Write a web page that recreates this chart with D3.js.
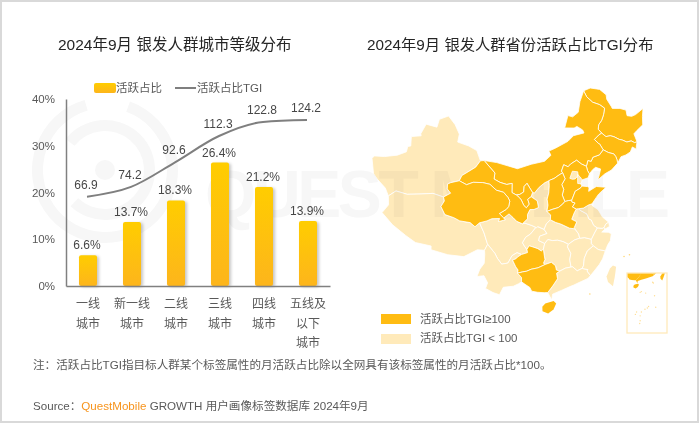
<!DOCTYPE html>
<html>
<head>
<meta charset="utf-8">
<script src="https://cdn.jsdelivr.net/npm/d3@7"></script>
<style>
  html, body { margin: 0; padding: 0; background: #fff; }
  svg { display: block; }
  text { font-family: "Liberation Sans", "Noto Sans CJK SC", sans-serif; }
</style>
</head>
<body>
<svg id="chart" width="700" height="423"></svg>
<script>
// left chart data
var cityTiers = [["一线","城市"],["新一线","城市"],["二线","城市"],["三线","城市"],["四线","城市"],["五线及","以下","城市"]];
var activeShare = [6.6, 13.7, 18.3, 26.4, 21.2, 13.9];
var activeTgi = [66.9, 74.2, 92.6, 112.3, 122.8, 124.2];
var shareTicks = [0, 10, 20, 30, 40];

// map data: shared borders in lon/lat, provinces are built by chaining them
var borders = {
  ext_hlj: [[121.5,53.3],[123.3,53.55],[125.6,53.05],[126.9,52],[126.8,51.3],[127.5,50],[127.6,49.7],[129.4,49.4],[130.7,48.9],[130.6,48],[131.6,47.7],[132.6,47.8],[134.7,48.4],[134,47.2],[133.5,45.9],[131.9,45.3],[131,44.9],[131.2,43.5]],
  hlj_nm: [[121.5,53.3],[122,52.3],[123.2,51.3],[124.8,50.7],[125.8,50],[125.2,49],[124.5,48.2],[123.6,47.6],[123.3,46.9],[123.9,46.2]],
  hlj_jl: [[123.9,46.2],[124.7,45.5],[125.7,45.5],[126.5,45.2],[127.5,44.6],[128.1,44.4],[129,43.9],[130,43.9],[130.6,43.5],[131.2,43.5]],
  ext_jl: [[131.2,43.5],[130.8,42.9],[130.6,42.4],[129.9,42.9],[129.2,42.2],[128.1,41.9],[127,41.8],[126,40.9]],
  jl_nm: [[123.9,46.2],[123.2,46],[122,45.4],[122.8,44.6],[123,44.5],[123.5,43.5]],
  jl_ln: [[123.5,43.5],[124.5,42.9],[125.6,42.5],[125.9,42],[126,41.5],[126,40.9]],
  ext_ln: [[126,40.9],[124.4,40],[122.9,39.6],[121.2,38.8],[121.7,39.6],[122.2,40.5],[121.2,40.9],[120.5,40.6],[119.7,40]],
  ln_nm: [[123.5,43.5],[122.5,42.8],[121,42.6],[120.5,42],[119.8,42.2],[119.3,41.3]],
  ln_hb: [[119.3,41.3],[119.4,40.6],[119.7,40]],
  ext_hb: [[119.7,40],[119.3,39.4],[118,39.2],[117.8,39.1],[117.6,38.6],[117.8,38.2]],
  hb_nm: [[119.3,41.3],[118.3,41.8],[117.4,42.5],[116,42],[115.4,41.6],[114.5,42],[113.9,41],[114.1,40.7]],
  sx_nm: [[114.1,40.7],[113.3,40.4],[112.2,39.9],[111.4,39.7],[111.1,39.6]],
  sn_nm: [[111.1,39.6],[110.2,39.3],[109,38.6],[108,37.7],[107.6,37.8]],
  nx_nm: [[107.6,37.8],[106.5,39.3],[105.9,38.8],[105.8,37.9],[105,37.5],[104.3,37.4]],
  gs_nm: [[104.3,37.4],[103.4,37.8],[103.4,39.3],[102.3,39.1],[100.9,39.4],[99.6,39.9],[99.7,40.9],[97.2,42.8]],
  ext_nm: [[97.2,42.8],[100,42.6],[104.5,41.7],[107.5,42.4],[110.4,42.8],[111.9,43.7],[111.5,44.4],[113,44.8],[116,45.7],[117.4,46.5],[119.9,46.7],[119.7,47.2],[118.5,47.9],[117.8,47.7],[115.6,47.9],[116.7,49.8],[117.8,49.5],[119.3,50.1],[120.1,51.7],[121.5,53.3]],
  gs_ext: [[97.2,42.8],[96.4,42.7]],
  ext_xj: [[96.4,42.7],[95.4,44.3],[93.5,44.9],[90.9,45.3],[91,46.6],[89.7,48],[87.8,49.2],[85.8,48.4],[85.6,47.1],[83,47.2],[82.3,45.5],[82.5,45.2],[80.4,44.7],[80.8,43.2],[80.2,43],[80.2,42.1],[78.5,41.2],[76,40.4],[73.9,40],[73.6,39.5],[74.9,37.2],[76,36.5],[78,35.5],[79,34.4]],
  xj_gs: [[96.4,42.7],[95.5,41.6],[93.8,40.6],[92.8,40],[92.4,39.1]],
  qh_xj: [[92.4,39.1],[90.7,38.6],[90.1,38.3],[90.2,37.5],[91,36.9],[89.7,36.1]],
  xj_xz: [[89.7,36.1],[87.5,36.4],[85,35.9],[82.5,35.4],[80.2,35.5],[79,34.4]],
  ext_xz: [[79,34.4],[79.5,33],[78.7,31.5],[81.2,30],[84,28.8],[86,28],[88.9,27.9],[89,27.3],[92.1,26.9],[95,26.9],[97.3,28.2],[98.6,28.2]],
  xz_qh: [[89.7,36.1],[90,35.5],[89.5,34.5],[90.5,33.3],[92.3,33],[93.5,32.6],[95.5,32.5],[96.5,31.9],[97.3,32.6]],
  sc_xz: [[97.3,32.6],[98.3,31],[99,29.4],[99.1,29.2]],
  yn_xz: [[99.1,29.2],[98.6,28.2]],
  qh_sc: [[97.3,32.6],[98.7,33],[99.6,33.4],[101.1,33.5],[100.9,33],[102.2,33.3],[101.9,33.6]],
  qh_gs: [[92.4,39.1],[94,38.6],[95.3,39.1],[97.3,39.2],[98.8,39],[100.2,38.1],[101.7,37.8],[102.6,37],[103,36.4],[102.8,35.5],[102.3,35],[101,34.3],[101.9,33.6]],
  gs_sc: [[101.9,33.6],[102.9,34.3],[103.7,33.7],[104.4,33.1],[105.5,32.7]],
  gs_sn: [[105.5,32.7],[106.5,33.5],[106.5,34.2],[107,35],[107.8,35],[108.7,35.3],[108.5,36.4],[107.3,37.1]],
  gs_nx: [[107.3,37.1],[106.6,36.7],[106.9,35.9],[106.3,35.3],[105.8,35.7],[105.3,36.6],[104.9,37],[104.3,37.4]],
  nx_sn: [[107.6,37.8],[107.3,37.1]],
  sc_sn: [[105.5,32.7],[106,32.8],[107.3,32.4],[108.2,32],[108.4,32.2]],
  sn_cq: [[108.4,32.2],[109.6,31.7]],
  sn_hub: [[109.6,31.7],[110.1,32.6],[110.9,33.2]],
  sn_hen: [[110.9,33.2],[111,34],[110.3,34.6]],
  sn_sx: [[110.3,34.6],[110.6,35.6],[110.5,36.6],[110.9,37.6],[111.1,38.8],[111.1,39.6]],
  sx_hen: [[110.3,34.6],[111.5,34.9],[112.6,35.1],[113.5,35.6],[114,36]],
  sx_hb: [[114,36],[113.6,37.1],[114,38],[113.7,38.8],[114.5,39.7],[114.1,40.7]],
  hen_hb: [[114,36],[114.8,36.1],[115.4,36.1]],
  hen_sd: [[115.4,36.1],[115.4,35.8],[116,35.6],[115.4,35],[116.1,34.6]],
  hb_sd: [[115.4,36.1],[116.3,37.5],[117.4,37.9],[117.8,38.2]],
  hen_ah: [[116.1,34.6],[115.6,34],[115,33],[115.9,32.5],[115.3,31.6],[115.4,31.4]],
  hen_hub: [[115.4,31.4],[114.4,31.6],[113.8,31.9],[112.8,32.4],[111.9,32.7],[110.9,33.2]],
  sd_ah: [[116.1,34.6],[116.5,34.6]],
  sd_js: [[116.5,34.6],[117.5,34.6],[118.6,35],[119.3,35.1]],
  ext_sd: [[119.3,35.1],[120.3,36],[120.9,36.5],[122.6,37.4],[120.7,37.8],[119,37.2],[119.2,37.8],[118.9,38],[117.8,38.2]],
  ext_js: [[119.3,35.1],[119.3,34.8],[120.3,34],[120.9,32.7],[121.9,31.7]],
  js_ah: [[116.5,34.6],[117,34.2],[118,33.6],[118.3,32.7],[118.7,32.5],[119,31.6],[119.6,31.1]],
  ah_zj: [[119.6,31.1],[118.9,30.3],[118.2,29.4]],
  ah_jx: [[118.2,29.4],[117,29.8],[116.1,29.8]],
  ah_hub: [[116.1,29.8],[116,30.5],[115.4,31.4]],
  js_zj: [[119.6,31.1],[120.5,30.9],[120.9,31]],
  js_sh: [[120.9,31],[121.3,31.5],[121.9,31.7]],
  zj_sh: [[120.9,31],[121,30.7]],
  ext_sh: [[121,30.7],[121.9,31],[121.9,31.7]],
  ext_zj: [[121,30.7],[120.3,30.3],[121.5,30.1],[122,29.8],[121.6,28.7],[121,28.1],[120.4,27.2]],
  zj_jx: [[118.2,29.4],[118.1,28.7],[118.4,28.3]],
  zj_fj: [[118.4,28.3],[119.2,27.6],[120.4,27.2]],
  ext_fj: [[120.4,27.2],[119.7,26],[119,25.2],[118.1,24.4],[117.2,23.6]],
  jx_fj: [[118.4,28.3],[117.2,27.6],[116.5,26.5],[116.2,25.3],[115.9,24.9]],
  fj_gd: [[115.9,24.9],[116.9,24.6],[116.7,24.4],[117.2,23.6]],
  ext_gd: [[117.2,23.6],[116.7,23.2],[115.1,22.7],[114.2,22.4],[113.5,22.2],[112,21.7],[110.5,21.2],[110.3,20.3],[109.8,21.3],[109.7,21.5]],
  jx_gd: [[115.9,24.9],[115,24.6],[114.3,25.3],[114,25.3]],
  jx_hun: [[114,25.3],[113.9,26.5],[114.2,27.5],[113.7,28.6],[113.9,29]],
  jx_hub: [[113.9,29],[115.1,29.6],[116.1,29.8]],
  hub_hun: [[113.9,29],[113,29.5],[112,29.8],[111,29.8],[110.2,30],[109.6,29.4]],
  hub_cq: [[109.6,29.4],[108.5,29.9],[108.7,30.6],[110.1,31],[109.6,31.7]],
  hun_cq: [[109.6,29.4],[109.3,28.5]],
  hun_gz: [[109.3,28.5],[109.4,27.5],[109.5,26.8],[109.2,26.2],[109.5,26]],
  hun_gx: [[109.5,26],[110.6,26.3],[111.3,25.7],[111.4,25],[112,24.8]],
  hun_gd: [[112,24.8],[113,25.2],[114,25.3]],
  gx_gd: [[112,24.8],[111.4,24.5],[111.5,23.6],[110.6,22.5],[109.7,21.5]],
  ext_gx: [[109.7,21.5],[109.1,21.5],[108,21.6],[107,21.8],[106.7,22.4],[105.9,22.9],[105.3,23.3]],
  gx_yn: [[105.3,23.3],[105.3,24],[104.6,24.7]],
  gx_gz: [[104.6,24.7],[105.5,24.9],[106.2,25],[107,25.3],[108.2,25.5],[109.5,26]],
  gz_yn: [[104.6,24.7],[104.7,25.2],[104.3,25.7],[103.7,26.8],[104.3,27],[104.6,27.3],[105.3,27.7]],
  gz_sc: [[105.3,27.7],[106.4,28],[106.3,28.5]],
  gz_cq: [[106.3,28.5],[106.7,29.1],[107.4,28.9],[108.3,28.6],[108.9,28.2],[109.3,28.5]],
  sc_cq: [[106.3,28.5],[105.9,29],[105.5,29.6],[106.1,30.5],[107,31],[108,32],[108.4,32.2]],
  sc_yn: [[99.1,29.2],[100,28.3],[100.5,27.8],[101,27],[101.8,26.1],[102.9,26.3],[103.6,27.5],[104.5,28],[105.3,27.7]],
  ext_yn: [[98.6,28.2],[98.7,27.5],[98.7,26.1],[98,25.1],[97.6,23.9],[98.8,24.1],[99.5,23],[99.2,22.1],[100.5,21.5],[101.6,21.2],[102.2,22.4],[103,22.5],[103.9,22.6],[104.8,23],[105.3,23.3]]
};

// tier 1 = TGI >= 100, tier 0 = TGI < 100
var provinces = [
  {name:"新疆", tier:0, arcs:["ext_xj","xj_gs","qh_xj","xj_xz"]},
  {name:"西藏", tier:0, arcs:["xj_xz","ext_xz","yn_xz","sc_xz","xz_qh"]},
  {name:"四川", tier:0, arcs:["sc_xz","qh_sc","gs_sc","sc_sn","sc_cq","gz_sc","sc_yn"]},
  {name:"云南", tier:0, arcs:["yn_xz","ext_yn","gx_yn","gz_yn","sc_yn"]},
  {name:"重庆", tier:0, arcs:["sc_cq","sn_cq","hub_cq","hun_cq","gz_cq"]},
  {name:"陕西", tier:0, arcs:["sn_nm","sn_sx","sn_hen","sn_hub","sn_cq","sc_sn","gs_sn","nx_sn"]},
  {name:"湖北", tier:0, arcs:["sn_hub","hen_hub","ah_hub","jx_hub","hub_hun","hub_cq"]},
  {name:"湖南", tier:0, arcs:["hub_hun","jx_hun","hun_gd","hun_gx","hun_gz","hun_cq"]},
  {name:"江西", tier:0, arcs:["jx_hub","ah_jx","zj_jx","jx_fj","jx_gd","jx_hun"]},
  {name:"广东", tier:0, arcs:["ext_gd","fj_gd","jx_gd","hun_gd","gx_gd"]},
  {name:"福建", tier:0, arcs:["ext_fj","zj_fj","jx_fj","fj_gd"]},
  {name:"浙江", tier:0, arcs:["ext_zj","zj_sh","js_zj","ah_zj","zj_jx","zj_fj"]},
  {name:"安徽", tier:0, arcs:["sd_ah","js_ah","ah_zj","ah_jx","ah_hub","hen_ah"]},
  {name:"江苏", tier:0, arcs:["sd_js","ext_js","js_sh","js_zj","js_ah"]},
  {name:"上海", tier:0, arcs:["js_sh","ext_sh","zj_sh"]},
  {name:"黑龙江", tier:1, arcs:["ext_hlj","hlj_jl","hlj_nm"]},
  {name:"吉林", tier:1, arcs:["hlj_jl","ext_jl","jl_ln","jl_nm"]},
  {name:"辽宁", tier:1, arcs:["jl_ln","ext_ln","ln_hb","ln_nm"]},
  {name:"内蒙古", tier:1, arcs:["ext_nm","hlj_nm","jl_nm","ln_nm","hb_nm","sx_nm","sn_nm","nx_nm","gs_nm"]},
  {name:"河北", tier:1, arcs:["ln_hb","ext_hb","hb_sd","hen_hb","sx_hb","hb_nm"]},
  {name:"山西", tier:1, arcs:["sx_hb","sx_hen","sn_sx","sx_nm"]},
  {name:"宁夏", tier:1, arcs:["nx_nm","nx_sn","gs_nx"]},
  {name:"甘肃", tier:1, arcs:["gs_nm","gs_nx","gs_sn","gs_sc","qh_gs","xj_gs","gs_ext"]},
  {name:"青海", tier:1, arcs:["qh_gs","qh_sc","xz_qh","qh_xj"]},
  {name:"贵州", tier:1, arcs:["gz_sc","gz_cq","hun_gz","gx_gz","gz_yn"]},
  {name:"广西", tier:1, arcs:["gx_gz","hun_gx","gx_gd","ext_gx","gx_yn"]},
  {name:"河南", tier:1, arcs:["sx_hen","hen_hb","hen_sd","hen_ah","hen_hub","sn_hen"]},
  {name:"山东", tier:1, arcs:["hb_sd","ext_sd","sd_js","sd_ah","hen_sd"]}
];
// enclaves and islands that need no chaining
var beijing = [[115.5,39.7],[116.2,40.8],[117.3,40.6],[117.3,40],[116.6,39.5],[116,39.5]];
var tianjin = [[117.2,40.2],[117.7,39.7],[118,39.2],[117.7,38.6],[117,38.7],[117.1,39.5]];
var hainan = [[108.7,19.3],[109.2,19.8],[110.6,20.1],[111,19.7],[110.5,18.8],[109.6,18.2],[108.7,18.6]];
var taiwan = [[121.3,24.7],[121.8,24.4],[121.3,22.9],[120.7,21.4],[120,22.2],[119.9,23.1],[120.7,24.3]];
var islets = [[123.5,25.8],[124.5,25.9],[116.7,20.7]];
var seaDots = [[111.5,16.6],[112,16.9],[113.8,16.3],[116.7,20.7],[117,20.4],[115,10.8],[114.5,10.2],[113.5,9.7],[112,8.6],[110,8.6],[111.5,7],[111.5,5],[111.3,3.9],[117.5,15.2],[118,10.5],[109.5,7.6]];

var COLOR_ORANGE = "#ffbc12";
var COLOR_LIGHT = "#ffeaba";
var TEXT_DARK = "#262626";
var TEXT_GRAY = "#595959";
var WM_GRAY = "#f7f7f7";

var svg = d3.select("#chart");
var defs = svg.append("defs");

//frame of the picture
svg.append("rect").attr("x",1).attr("y",1).attr("width",697).attr("height",421)
  .attr("fill","#fff").attr("stroke","#d9d9d9").attr("stroke-width",2);

//watermark: the left half sits behind the bars, the right half is laid over the light provinces
defs.append("clipPath").attr("id","wmLeft").append("rect").attr("x",0).attr("y",0).attr("width",360).attr("height",423);
defs.append("clipPath").attr("id","wmRight").append("rect").attr("x",360).attr("y",0).attr("width",340).attr("height",423);
function drawWatermark(parent, clipId){
  return parent.append("text").attr("x",205).attr("y",217).attr("font-size",66).attr("font-weight","bold")
    .attr("textLength",465).attr("lengthAdjust","spacing").attr("fill",WM_GRAY)
    .attr("clip-path","url(#"+clipId+")").text("QUEST MOBILE");
}
var wm = svg.append("g").attr("fill",WM_GRAY);
var logo = wm.append("g").attr("transform","translate(105,170)");
var ring = d3.arc();
[[62,73,0.35,6.0],[39,50,-0.9,3.9]].forEach(function(r){
  logo.append("path").attr("d", ring({innerRadius:r[0],outerRadius:r[1],startAngle:r[2],endAngle:r[3]}));
});
logo.append("circle").attr("r",10);
drawWatermark(wm,"wmLeft");

// ---------- left chart ----------
var x = d3.scaleBand().domain(d3.range(cityTiers.length)).range([66,330]).paddingInner(0.59).paddingOuter(0.295);
var y = d3.scaleLinear().domain([0,40]).range([286,99]);
var yTgi = d3.scaleLinear().domain([0,140]).range([286,99]);

var grad = defs.append("linearGradient").attr("id","barFill").attr("x1",0).attr("y1",0).attr("x2",0).attr("y2",1);
grad.append("stop").attr("offset","0%").attr("stop-color","#ffcd00");
grad.append("stop").attr("offset","100%").attr("stop-color","#fdb51c");

svg.append("g").selectAll("rect").data(activeShare).join("rect")
  .attr("x",function(d,i){return x(i);})
  .attr("y",function(d){return y(d);})
  .attr("width",x.bandwidth())
  .attr("height",function(d){return y(0)-y(d);})
  .attr("rx",2)
  .attr("fill","url(#barFill)")
  .style("filter","drop-shadow(2px 1px 1.5px rgba(0,0,0,.22))");

var yAxis = d3.axisLeft(y).tickValues(shareTicks).tickSize(0).tickPadding(11).tickFormat(function(d){return d+"%";});
var yG = svg.append("g").attr("transform","translate(66,0)").call(yAxis);
yG.select(".domain").attr("stroke","#808080").attr("stroke-width",1.5);
yG.selectAll("text").attr("font-size",11.5).attr("fill",TEXT_GRAY).style("font-family",'"Liberation Sans"');

var xAxis = d3.axisBottom(x).tickSize(0).tickFormat("");
var xG = svg.append("g").attr("transform","translate(0,286)").call(xAxis);
xG.select(".domain").attr("stroke","#808080").attr("stroke-width",1.5);

svg.append("g").selectAll("text").data(cityTiers).join("text")
  .attr("text-anchor","middle").attr("font-size",12).attr("fill",TEXT_GRAY)
  .each(function(d,i){
    d3.select(this).selectAll("tspan").data(d).join("tspan")
      .attr("x",x(i)+x.bandwidth()/2)
      .attr("y",function(t,k){return 308+k*19.5;})
      .text(function(t){return t;});
  });

var tgiLine = d3.line()
  .x(function(d,i){return x(i)+x.bandwidth()/2-1;})
  .y(function(d){return yTgi(d);})
  .curve(d3.curveMonotoneX);
svg.append("path").attr("d",tgiLine(activeTgi)).attr("fill","none").attr("stroke","#7f7f7f").attr("stroke-width",2);

svg.append("g").selectAll("text").data(activeShare).join("text")
  .attr("x",function(d,i){return x(i)+x.bandwidth()/2-1;})
  .attr("y",function(d){return y(d)-6;})
  .attr("text-anchor","middle").attr("font-size",12).attr("fill",TEXT_DARK).attr("opacity",0.85)
  .text(function(d){return d.toFixed(1)+"%";});

svg.append("g").selectAll("text").data(activeTgi).join("text")
  .attr("x",function(d,i){return x(i)+x.bandwidth()/2-2;})
  .attr("y",function(d){return yTgi(d)-8;})
  .attr("text-anchor","middle").attr("font-size",12).attr("fill",TEXT_DARK).attr("opacity",0.85)
  .text(function(d){return d.toFixed(1);});

//legend of the left chart
svg.append("rect").attr("x",94).attr("y",83).attr("width",22).attr("height",10).attr("rx",2).attr("fill","url(#barFill)");
svg.append("text").attr("x",116).attr("y",92).attr("font-size",11.5).attr("fill",TEXT_GRAY).text("活跃占比");
svg.append("line").attr("x1",175).attr("x2",196).attr("y1",88).attr("y2",88).attr("stroke","#7f7f7f").attr("stroke-width",2);
svg.append("text").attr("x",197).attr("y",92).attr("font-size",11.5).attr("fill",TEXT_GRAY).text("活跃占比TGI");

// ---------- map ----------
function samePoint(a,b){ return a[0]===b[0] && a[1]===b[1]; }

//walk the arcs end to end, flipping the ones that run the other way
function chainRing(names){
  var left = names.map(function(n){ return borders[n]; });
  var ring = left.shift().slice();
  while (left.length) {
    var end = ring[ring.length-1];
    var k = left.findIndex(function(a){ return samePoint(a[0],end) || samePoint(a[a.length-1],end); });
    if (k < 0) { console.log("broken ring", names); break; }
    var a = left.splice(k,1)[0];
    ring = ring.concat(samePoint(a[0],end) ? a.slice(1) : a.slice().reverse().slice(1));
  }
  return ring;
}

var rings = provinces.map(function(p){ return chainRing(p.arcs); });
var conic = d3.geoConicConformal().parallels([25,47]).rotate([-105,0]).scale(1000).translate([0,0]);
var projected = rings.concat([hainan]).flat().map(function(c){ return conic(c); });
var mapX = d3.scaleLinear().domain(d3.extent(projected,function(p){return p[0];})).range([372,643]);
var mapY = d3.scaleLinear().domain(d3.extent(projected,function(p){return p[1];})).range([88,313.5]);

var mapPath = d3.geoPath(d3.geoTransform({
  point: function(lon,lat){ var p = conic([lon,lat]); this.stream.point(mapX(p[0]),mapY(p[1])); }
}));
function polygon(ring){ return {type:"Polygon",coordinates:[ring.concat([ring[0]])]}; }

var mapG = svg.append("g").attr("stroke","#fff").attr("stroke-width",0.8).attr("stroke-linejoin","round");
mapG.selectAll("path.low").data(provinces.filter(function(p){return p.tier===0;})).join("path")
  .attr("class","low").attr("d",function(p){ return mapPath(polygon(chainRing(p.arcs))); }).attr("fill",COLOR_LIGHT);
drawWatermark(svg,"wmRight").style("mix-blend-mode","multiply");
var mapTop = svg.append("g").attr("stroke","#fff").attr("stroke-width",0.8).attr("stroke-linejoin","round");
mapTop.selectAll("path.high").data(provinces.filter(function(p){return p.tier===1;})).join("path")
  .attr("class","high").attr("d",function(p){ return mapPath(polygon(chainRing(p.arcs))); }).attr("fill",COLOR_ORANGE);
mapTop.append("path").attr("d",mapPath(polygon(beijing))).attr("fill",COLOR_LIGHT);
mapTop.append("path").attr("d",mapPath(polygon(tianjin))).attr("fill",COLOR_LIGHT);
mapTop.append("path").attr("d",mapPath(polygon(hainan))).attr("fill",COLOR_ORANGE).attr("stroke","none");
mapTop.append("path").attr("d",mapPath(polygon(taiwan))).attr("fill",COLOR_LIGHT).attr("stroke","none");
svg.append("g").selectAll("circle").data(islets).join("circle")
  .attr("cx",function(d){return mapX(conic(d)[0]);}).attr("cy",function(d){return mapY(conic(d)[1]);})
  .attr("r",0.8).attr("fill","#ffd777");

//south china sea inset
var inX = d3.scaleLinear().domain([106,122.7]).range([627,667]);
var inY = d3.scaleLinear().domain([24.5,0]).range([273,333]);
defs.append("clipPath").attr("id","insetClip").append("rect").attr("x",627).attr("y",273).attr("width",40).attr("height",60);
var insetPath = d3.geoPath(d3.geoTransform({
  point: function(lon,lat){ this.stream.point(inX(lon),inY(lat)); }
}));
var inset = svg.append("g");
var insetMap = inset.append("g").attr("clip-path","url(#insetClip)");
insetMap.selectAll("path").data(provinces).join("path")
  .attr("d",function(p){ return insetPath(polygon(chainRing(p.arcs))); }).attr("fill",COLOR_ORANGE);
insetMap.append("path").attr("d",insetPath(polygon(hainan))).attr("fill",COLOR_ORANGE);
insetMap.append("path").attr("d",insetPath(polygon(taiwan))).attr("fill",COLOR_ORANGE);
insetMap.selectAll("circle").data(seaDots).join("circle")
  .attr("cx",function(d){return inX(d[0]);}).attr("cy",function(d){return inY(d[1]);})
  .attr("r",0.7).attr("fill","#ffdf96");
inset.append("rect").attr("x",627).attr("y",273).attr("width",40).attr("height",60)
  .attr("fill","none").attr("stroke",COLOR_LIGHT).attr("stroke-width",1.3);

//map legend
svg.append("rect").attr("x",381).attr("y",314).attr("width",30).attr("height",10).attr("fill",COLOR_ORANGE);
svg.append("text").attr("x",420).attr("y",323).attr("font-size",11.5).attr("fill",TEXT_GRAY).text("活跃占比TGI≥100");
svg.append("rect").attr("x",381).attr("y",334).attr("width",30).attr("height",10).attr("fill",COLOR_LIGHT);
svg.append("text").attr("x",420).attr("y",342).attr("font-size",11.5).attr("fill",TEXT_GRAY).text("活跃占比TGI < 100");

// ---------- titles and notes ----------
svg.append("text").attr("x",58).attr("y",50).attr("font-size",15.5).attr("fill",TEXT_DARK).text("2024年9月 银发人群城市等级分布");
svg.append("text").attr("x",367).attr("y",50).attr("font-size",15.3).attr("fill",TEXT_DARK).text("2024年9月 银发人群省份活跃占比TGI分布");

svg.append("text").attr("x",33).attr("y",369).attr("font-size",11.6).attr("fill",TEXT_GRAY)
  .text("注：活跃占比TGI指目标人群某个标签属性的月活跃占比除以全网具有该标签属性的月活跃占比*100。");
var src = svg.append("text").attr("x",33).attr("y",410).attr("font-size",11.6).attr("fill",TEXT_GRAY);
src.append("tspan").text("Source：");
src.append("tspan").attr("fill","#f7941d").text("QuestMobile");
src.append("tspan").text(" GROWTH 用户画像标签数据库 2024年9月");
</script>
</body>
</html>
